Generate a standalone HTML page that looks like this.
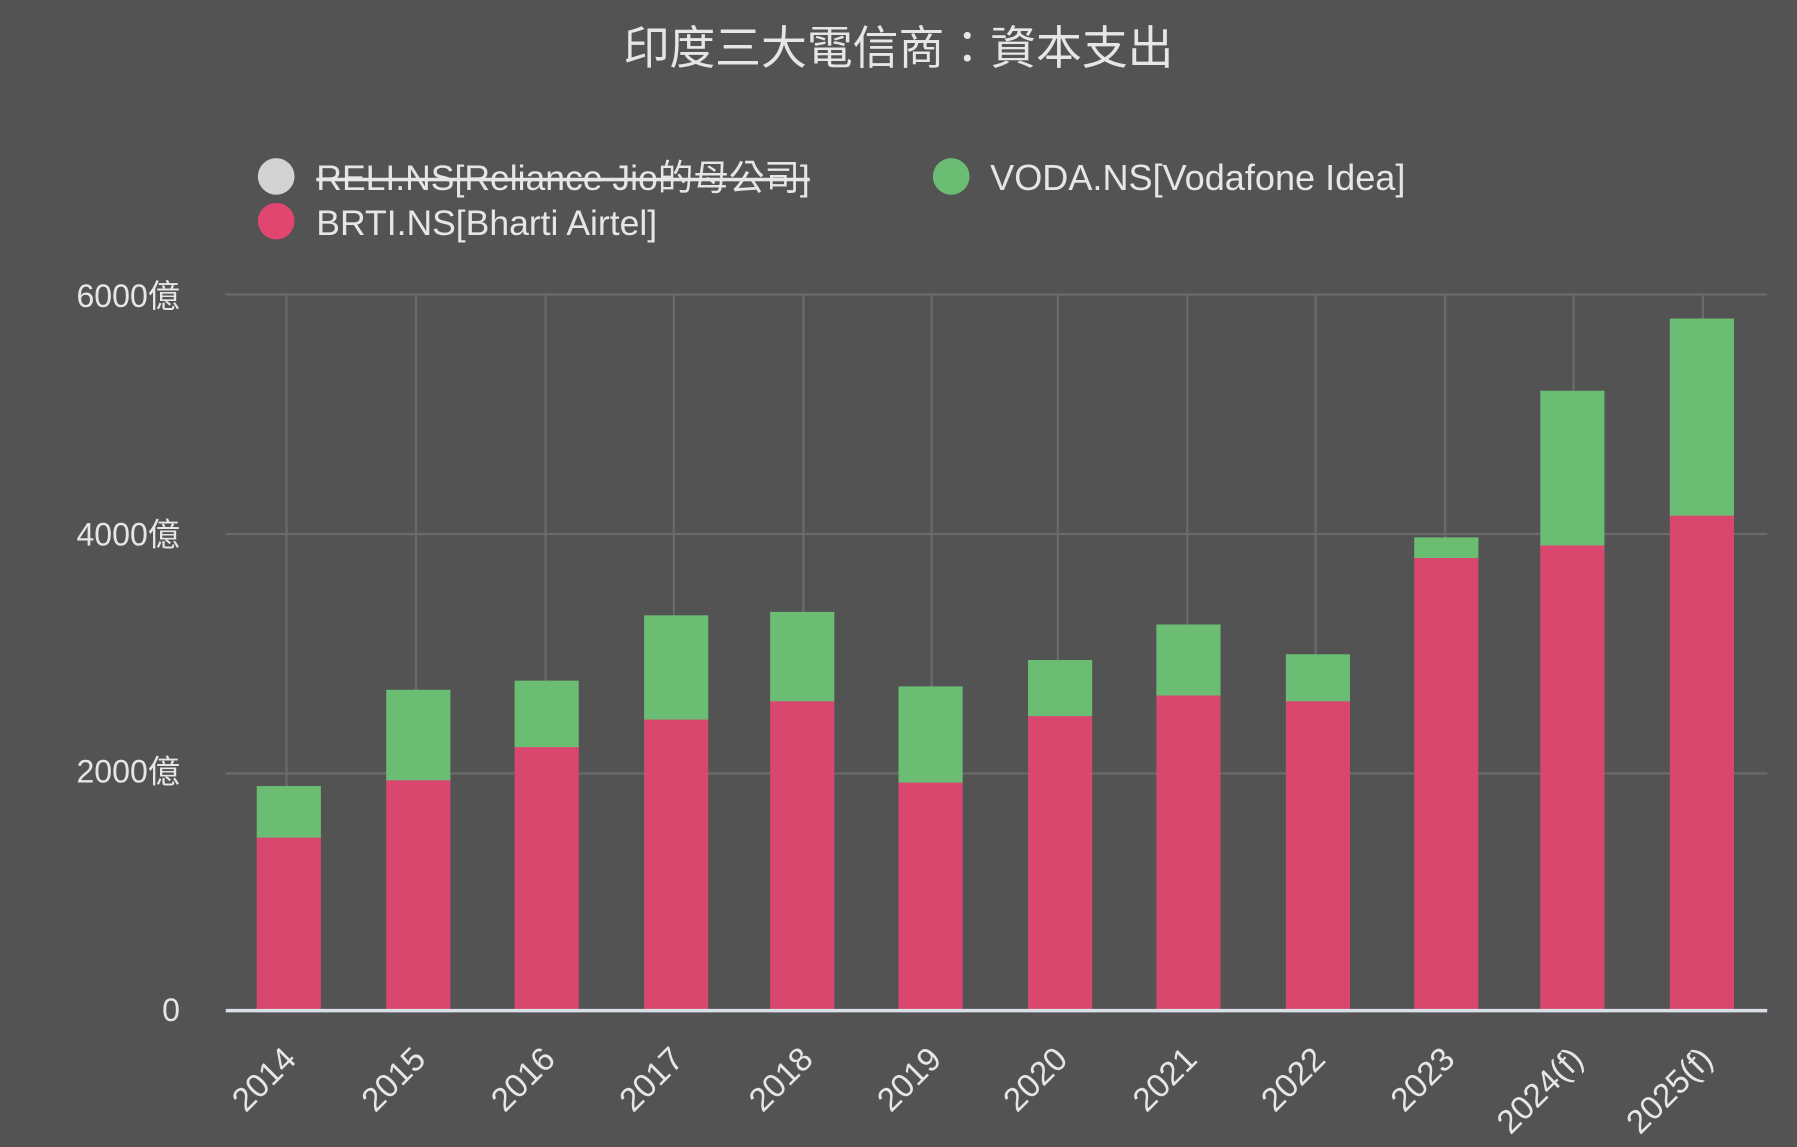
<!DOCTYPE html>
<html><head><meta charset="utf-8"><style>
html,body{margin:0;padding:0;background:#535353;}
svg{display:block;}
text{font-family:"Liberation Sans","Noto Sans CJK TC",sans-serif;fill:#e6e6e6;}
</style></head><body>
<svg width="1797" height="1147" viewBox="0 0 1568 1001" preserveAspectRatio="none" xmlns="http://www.w3.org/2000/svg">
<rect width="1568" height="1001" fill="#535353"/>
<text x="784" y="56" font-size="40" text-anchor="middle" fill="#dddddd">印度三大電信商：資本支出</text>
<circle cx="241" cy="154" r="16" fill="#d3d3d3"/>
<text x="276" y="166" font-size="31" fill="#cfcfcf" text-decoration="line-through">RELI.NS[Reliance Jio的母公司]</text>
<circle cx="241" cy="193" r="16" fill="#e0466f"/>
<text x="276" y="205" font-size="31">BRTI.NS[Bharti Airtel]</text>
<circle cx="830" cy="154" r="16" fill="#6bbd74"/>
<text x="864" y="166" font-size="31.5">VODA.NS[Vodafone Idea]</text>
<g stroke="#6a6a6a" stroke-width="2">
<line x1="197" y1="257" x2="1542" y2="257"/>
<line x1="197" y1="466" x2="1542" y2="466"/>
<line x1="197" y1="675" x2="1542" y2="675"/>
<line x1="250" y1="257" x2="250" y2="882"/><line x1="363" y1="257" x2="363" y2="882"/>
<line x1="476" y1="257" x2="476" y2="882"/><line x1="588" y1="257" x2="588" y2="882"/>
<line x1="701" y1="257" x2="701" y2="882"/><line x1="813" y1="257" x2="813" y2="882"/>
<line x1="923" y1="257" x2="923" y2="882"/><line x1="1036" y1="257" x2="1036" y2="882"/>
<line x1="1148" y1="257" x2="1148" y2="882"/><line x1="1261" y1="257" x2="1261" y2="882"/>
<line x1="1373" y1="257" x2="1373" y2="882"/><line x1="1486" y1="257" x2="1486" y2="882"/>
</g>
<g font-size="28" text-anchor="end">
<text x="157" y="268">6000億</text>
<text x="157" y="476">4000億</text>
<text x="157" y="683">2000億</text>
<text x="157" y="891">0</text>
</g>
<g id="bars">
<rect x="224" y="686" width="56" height="46" fill="#6bbd74"/><rect x="224" y="731" width="56" height="151" fill="#d9476f"/>
<rect x="337" y="602" width="56" height="80" fill="#6bbd74"/><rect x="337" y="681" width="56" height="201" fill="#d9476f"/>
<rect x="449" y="594" width="56" height="59" fill="#6bbd74"/><rect x="449" y="652" width="56" height="230" fill="#d9476f"/>
<rect x="562" y="537" width="56" height="92" fill="#6bbd74"/><rect x="562" y="628" width="56" height="254" fill="#d9476f"/>
<rect x="672" y="534" width="56" height="79" fill="#6bbd74"/><rect x="672" y="612" width="56" height="270" fill="#d9476f"/>
<rect x="784" y="599" width="56" height="85" fill="#6bbd74"/><rect x="784" y="683" width="56" height="199" fill="#d9476f"/>
<rect x="897" y="576" width="56" height="50" fill="#6bbd74"/><rect x="897" y="625" width="56" height="257" fill="#d9476f"/>
<rect x="1009" y="545" width="56" height="63" fill="#6bbd74"/><rect x="1009" y="607" width="56" height="275" fill="#d9476f"/>
<rect x="1122" y="571" width="56" height="42" fill="#6bbd74"/><rect x="1122" y="612" width="56" height="270" fill="#d9476f"/>
<rect x="1234" y="469" width="56" height="19" fill="#6bbd74"/><rect x="1234" y="487" width="56" height="395" fill="#d9476f"/>
<rect x="1344" y="341" width="56" height="136" fill="#6bbd74"/><rect x="1344" y="476" width="56" height="406" fill="#d9476f"/>
<rect x="1457" y="278" width="56" height="173" fill="#6bbd74"/><rect x="1457" y="450" width="56" height="432" fill="#d9476f"/>
</g>
<line x1="197" y1="882" x2="1542" y2="882" stroke="#d8dfe6" stroke-width="3"/>
<g font-size="29" text-anchor="end">
<text transform="translate(260,926) rotate(-45)">2014</text>
<text transform="translate(373,926) rotate(-45)">2015</text>
<text transform="translate(486,926) rotate(-45)">2016</text>
<text transform="translate(598,926) rotate(-45)">2017</text>
<text transform="translate(711,926) rotate(-45)">2018</text>
<text transform="translate(823,926) rotate(-45)">2019</text>
<text transform="translate(933,926) rotate(-45)">2020</text>
<text transform="translate(1046,926) rotate(-45)">2021</text>
<text transform="translate(1158,926) rotate(-45)">2022</text>
<text transform="translate(1271,926) rotate(-45)">2023</text>
<text transform="translate(1383,926) rotate(-45)">2024(f)</text>
<text transform="translate(1496,926) rotate(-45)">2025(f)</text>
</g>
</svg>
</body></html>
